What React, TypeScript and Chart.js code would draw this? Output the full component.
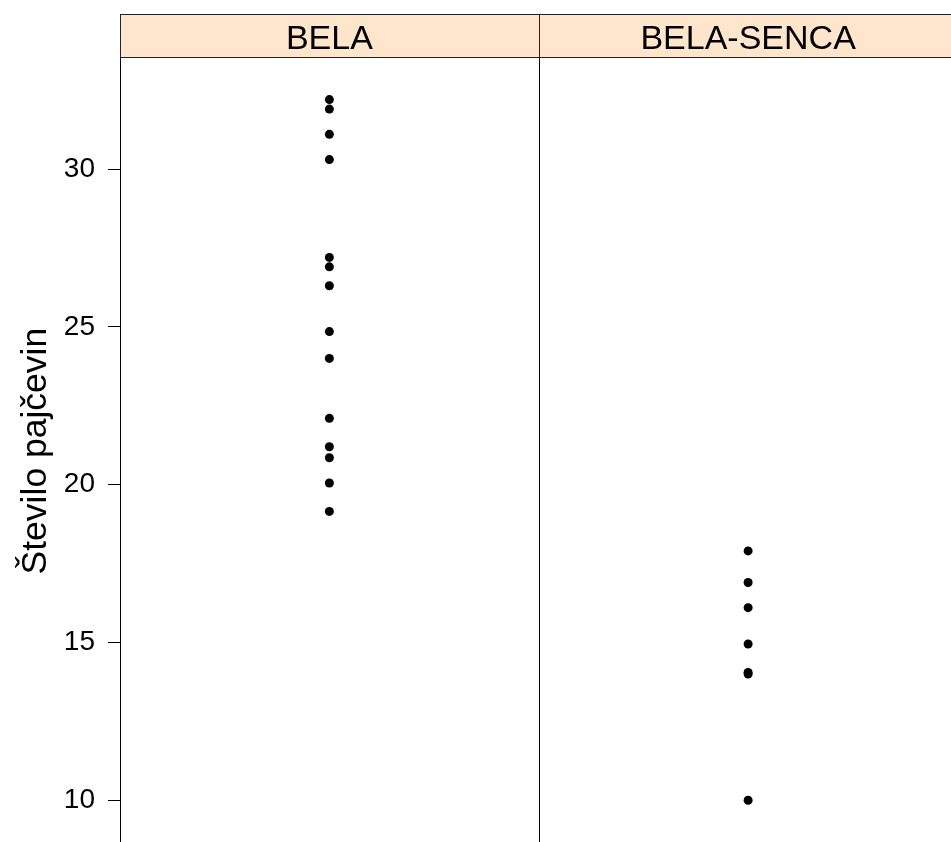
import React, { useEffect, useRef } from 'react';
import { Chart, registerables } from 'chart.js';

Chart.register(...registerables);

// ---- data ----
const CATEGORIES = ['BELA', 'BELA-SENCA'];
const BELA_VALUES = [32.2, 31.9, 31.1, 30.3, 27.2, 26.9, 26.3, 24.85, 24.0, 22.1, 21.2, 20.85, 20.05, 19.15];
const BELA_SENCA_VALUES = [17.9, 16.9, 16.1, 14.95, 14.05, 14.0, 10.0];
const Y_TICKS = [10, 15, 20, 25, 30];
const Y_TITLE = 'Število pajčevin';
const Y_MIN = 8.574;
const Y_MAX = 33.55;

// ---- style ----
const FONT = '"Liberation Sans", Arial, sans-serif';
const STRIP_FILL = '#FFE5CC';
const STRIP_TOP = 14;

const panelPlugin = {
  id: 'panels',
  afterDatasetsDraw(chart: any) {
    const { ctx, chartArea: a } = chart;
    const xs = chart.scales.x;
    const n = CATEGORIES.length;
    const w = (a.right - a.left) / n;
    ctx.save();
    ctx.lineWidth = 1;
    ctx.strokeStyle = '#000';
    for (let i = 0; i < n; i++) {
      const l = Math.round(a.left + i * w);
      const r = Math.round(a.left + (i + 1) * w);
      // panel frame
      ctx.strokeRect(l + 0.5, Math.round(a.top) + 0.5, r - l, Math.round(a.bottom - a.top));
      // strip
      ctx.fillStyle = STRIP_FILL;
      ctx.fillRect(l, STRIP_TOP, r - l, Math.round(a.top) - STRIP_TOP);
      ctx.strokeStyle = '#222';
      ctx.strokeRect(l + 0.5, STRIP_TOP + 0.5, r - l, Math.round(a.top) - STRIP_TOP);
      ctx.strokeStyle = '#000';
      ctx.fillStyle = '#000';
      ctx.font = `34px ${FONT}`;
      ctx.textAlign = 'center';
      ctx.textBaseline = 'alphabetic';
      ctx.fillText(CATEGORIES[i], xs.getPixelForValue(i), a.top - 8);
    }
    ctx.restore();
  },
};

export default function App() {
  const ref = useRef<HTMLCanvasElement | null>(null);

  useEffect(() => {
    if (!ref.current) return;
    const chart = new Chart(ref.current, {
      type: 'scatter',
      data: {
        labels: CATEGORIES,
        datasets: [
          {
            data: BELA_VALUES.map((v) => ({ x: CATEGORIES[0], y: v })),
            pointRadius: 4.5,
            pointBackgroundColor: '#000',
            pointBorderWidth: 0,
          },
          {
            data: BELA_SENCA_VALUES.map((v) => ({ x: CATEGORIES[1], y: v })),
            pointRadius: 4.5,
            pointBackgroundColor: '#000',
            pointBorderWidth: 0,
          },
        ],
      } as any,
      options: {
        animation: false,
        responsive: false,
        events: [],
        layout: { padding: { left: 0, top: 0, right: 2, bottom: 0 } },
        plugins: { legend: { display: false }, tooltip: { enabled: false } },
        scales: {
          x: {
            type: 'category',
            labels: CATEGORIES,
            offset: true,
            position: 'top',
            afterFit: (s: any) => {
              s.height = 57;
            },
            grid: { display: false },
            border: { display: false },
            ticks: { display: false },
          },
          y: {
            type: 'linear',
            min: Y_MIN,
            max: Y_MAX,
            afterBuildTicks: (s: any) => {
              s.ticks = Y_TICKS.map((v) => ({ value: v }));
            },
            afterFit: (s: any) => {
              s.width = 120;
            },
            grid: { drawOnChartArea: false, drawTicks: true, tickLength: 12, color: '#000', lineWidth: 1 },
            border: { display: false },
            ticks: { padding: 13, color: '#000', font: { family: FONT, size: 28 } },
            title: {
              display: true,
              text: Y_TITLE,
              color: '#000',
              font: { family: FONT, size: 35.5 },
              padding: { top: 15, bottom: 0 },
            },
          },
        },
      } as any,
      plugins: [panelPlugin],
    });
    return () => chart.destroy();
  }, []);

  return (
    <div
      style={{
        position: 'fixed',
        left: 0,
        top: 0,
        width: 951,
        height: 842,
        overflow: 'hidden',
        background: '#fff',
      }}
    >
      <canvas ref={ref} width={962} height={875} style={{ width: 962, height: 875, display: 'block' }} />
    </div>
  );
}
